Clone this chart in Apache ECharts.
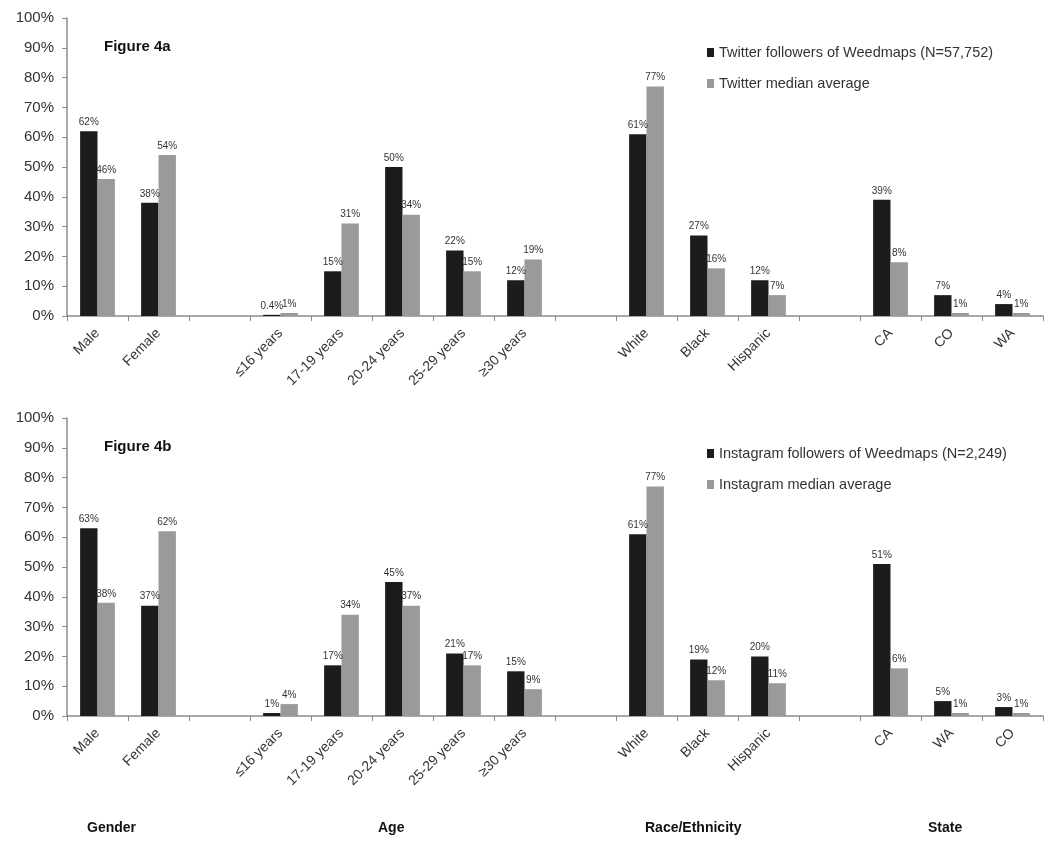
<!DOCTYPE html>
<html><head><meta charset="utf-8">
<script src="https://cdn.jsdelivr.net/npm/echarts@6/dist/echarts.min.js"></script>
<style>html,body{margin:0;padding:0;background:#fff}#c{width:1050px;height:842px}</style>
</head><body><div id="c"></div>
<script>
// ---- data ----
const catsTop = ['Male','Female','','≤16 years','17-19 years','20-24 years','25-29 years','≥30 years','','White','Black','Hispanic','','CA','CO','WA'];
const catsBottom = ['Male','Female','','≤16 years','17-19 years','20-24 years','25-29 years','≥30 years','','White','Black','Hispanic','','CA','WA','CO'];
const twitterFollowers = [62,38,'-',0.4,15,50,22,12,'-',61,27,12,'-',39,7,4];
const twitterMedian    = [46,54,'-',1,31,34,15,19,'-',77,16,7,'-',18,1,1];
const instaFollowers   = [63,37,'-',1,17,45,21,15,'-',61,19,20,'-',51,5,3];
const instaMedian      = [38,62,'-',4,34,37,17,9,'-',77,12,11,'-',16,1,1];
// label texts as printed in the figure where they differ from the value
const twitterMedianLabelOverride = {13:'8%'};
const instaMedianLabelOverride = {13:'6%'};
const groupNames = ['Gender','Age','Race/Ethnicity','State'];
const legendTop = ['Twitter followers of Weedmaps (N=57,752)','Twitter median average'];
const legendBottom = ['Instagram followers of Weedmaps (N=2,249)','Instagram median average'];

const FONT = 'Liberation Sans, Arial, sans-serif';
const DARK = '#1c1c1c', GRAY = '#9a9a9a', TXT = '#333';

function xAxis(idx, cats){
  return {type:'category', gridIndex:idx, data:cats,
    axisLine:{lineStyle:{color:'#8c8c8c', width:1.5}},
    axisTick:{show:true, length:5, interval:0, lineStyle:{color:'#8c8c8c'}},
    axisLabel:{interval:0, rotate:45, margin:15, color:TXT, fontSize:14, fontFamily:FONT}};
}
function yAxis(idx){
  return {type:'value', gridIndex:idx, min:0, max:100, interval:10,
    axisLine:{show:true, lineStyle:{color:'#8c8c8c', width:1.5}},
    axisTick:{show:true, length:5, lineStyle:{color:'#8c8c8c'}},
    splitLine:{show:false},
    axisLabel:{formatter:v=>v+'%', color:TXT, fontSize:15, fontFamily:FONT, margin:13}};
}
function bar(name, data, color, idx, override){
  return {name, type:'bar', xAxisIndex:idx, yAxisIndex:idx, data,
    itemStyle:{color}, barGap:'0%', barCategoryGap:'43%',
    label:{show:true, position:'top', distance:4, color:TXT, fontSize:10, fontFamily:FONT,
      formatter:p=> (override && override[p.dataIndex]) ? override[p.dataIndex] : p.value+'%'}};
}
function legend(names, top){
  return {orient:'vertical', left:702, top, icon:'rect', itemWidth:7, itemHeight:9, itemGap:16,
    data:names, textStyle:{color:TXT, fontSize:14.5, fontFamily:FONT}, selectedMode:false};
}
const groupX = [87, 378, 645, 928];

const chart = echarts.init(document.getElementById('c'), null, {renderer:'canvas'});
chart.setOption({
  animation:false,
  backgroundColor:'#fff',
  title:[
    {text:'Figure 4a', left:99, top:34, textStyle:{fontSize:15, fontWeight:'bold', color:'#111', fontFamily:FONT}},
    {text:'Figure 4b', left:99, top:434, textStyle:{fontSize:15, fontWeight:'bold', color:'#111', fontFamily:FONT}}
  ],
  legend:[legend(legendTop, 40), legend(legendBottom, 441)],
  grid:[
    {left:67, right:7, top:18, bottom:526},
    {left:67, right:7, top:418, bottom:126}
  ],
  xAxis:[xAxis(0, catsTop), xAxis(1, catsBottom)],
  yAxis:[yAxis(0), yAxis(1)],
  series:[
    bar(legendTop[0], twitterFollowers, DARK, 0),
    bar(legendTop[1], twitterMedian, GRAY, 0, twitterMedianLabelOverride),
    bar(legendBottom[0], instaFollowers, DARK, 1),
    bar(legendBottom[1], instaMedian, GRAY, 1, instaMedianLabelOverride)
  ],
  graphic: groupNames.map((t,i)=>({type:'text', left:groupX[i], top:821,
    style:{text:t, font:'bold 14px '+FONT, fill:'#111'}}))
});
</script></body></html>
